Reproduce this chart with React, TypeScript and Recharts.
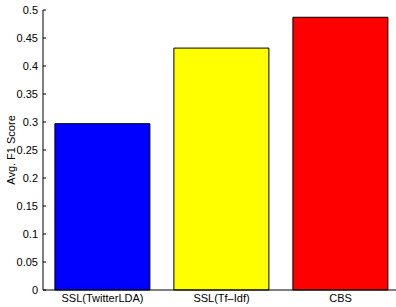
import { Bar, BarChart, Cell, XAxis, YAxis, Label } from 'recharts';

const methods = ['SSL(TwitterLDA)', 'SSL(Tf\u2013Idf)', 'CBS'];
const f1Scores = [0.297, 0.432, 0.487];
const yTicks = [0, 0.05, 0.1, 0.15, 0.2, 0.25, 0.3, 0.35, 0.4, 0.45, 0.5];

const barColors = ['#0000ff', '#ffff00', '#ff0000'];
const font = 'Liberation Sans, Arial, Helvetica, sans-serif';

const data = methods.map((name, i) => ({ name, score: f1Scores[i] }));

const YTick = (props: any) => {
  const { x, y, payload } = props;
  return (
    <g>
      <text x={x} y={y} dy={4} textAnchor="end" fontSize={11} fontFamily={font} fill="#000">
        {`${+Number(payload.value).toFixed(2)}`}
      </text>
      <line x1={x + 5} x2={x + 8} y1={y} y2={y} stroke="#000" />
    </g>
  );
};

const App = () => {
  return (
    <div
      style={{
        position: 'absolute',
        left: 0,
        top: 0,
        width: 396,
        height: 307,
        overflow: 'hidden',
        background: '#fff',
      }}
    >
      <BarChart
        width={404}
        height={307}
        data={data}
        margin={{ top: 10, right: 4, left: 0, bottom: 0 }}
        barCategoryGap="10%"
      >
        <XAxis
          dataKey="name"
          height={17}
          tickLine={false}
          tickSize={0}
          tickMargin={4}
          axisLine={{ stroke: '#000' }}
          tick={{ fontSize: 11, fontFamily: font, fill: '#000' }}
          interval={0}
        />
        <YAxis
          width={43}
          domain={[0, 0.5]}
          ticks={yTicks}
          interval={0}
          tickLine={false}
          tickSize={0}
          tickMargin={5}
          axisLine={{ stroke: '#000' }}
          tick={<YTick />}
        >
          <Label
            value="Avg. F1 Score"
            angle={-90}
            position="insideLeft"
            offset={11}
            style={{ fontSize: 11, fontFamily: font, fill: '#000', textAnchor: 'middle' }}
          />
        </YAxis>
        <Bar dataKey="score" stroke="#000" strokeWidth={1} isAnimationActive={false}>
          {data.map((d, i) => (
            <Cell key={d.name} fill={barColors[i]} />
          ))}
        </Bar>
      </BarChart>
    </div>
  );
};

export default App;
